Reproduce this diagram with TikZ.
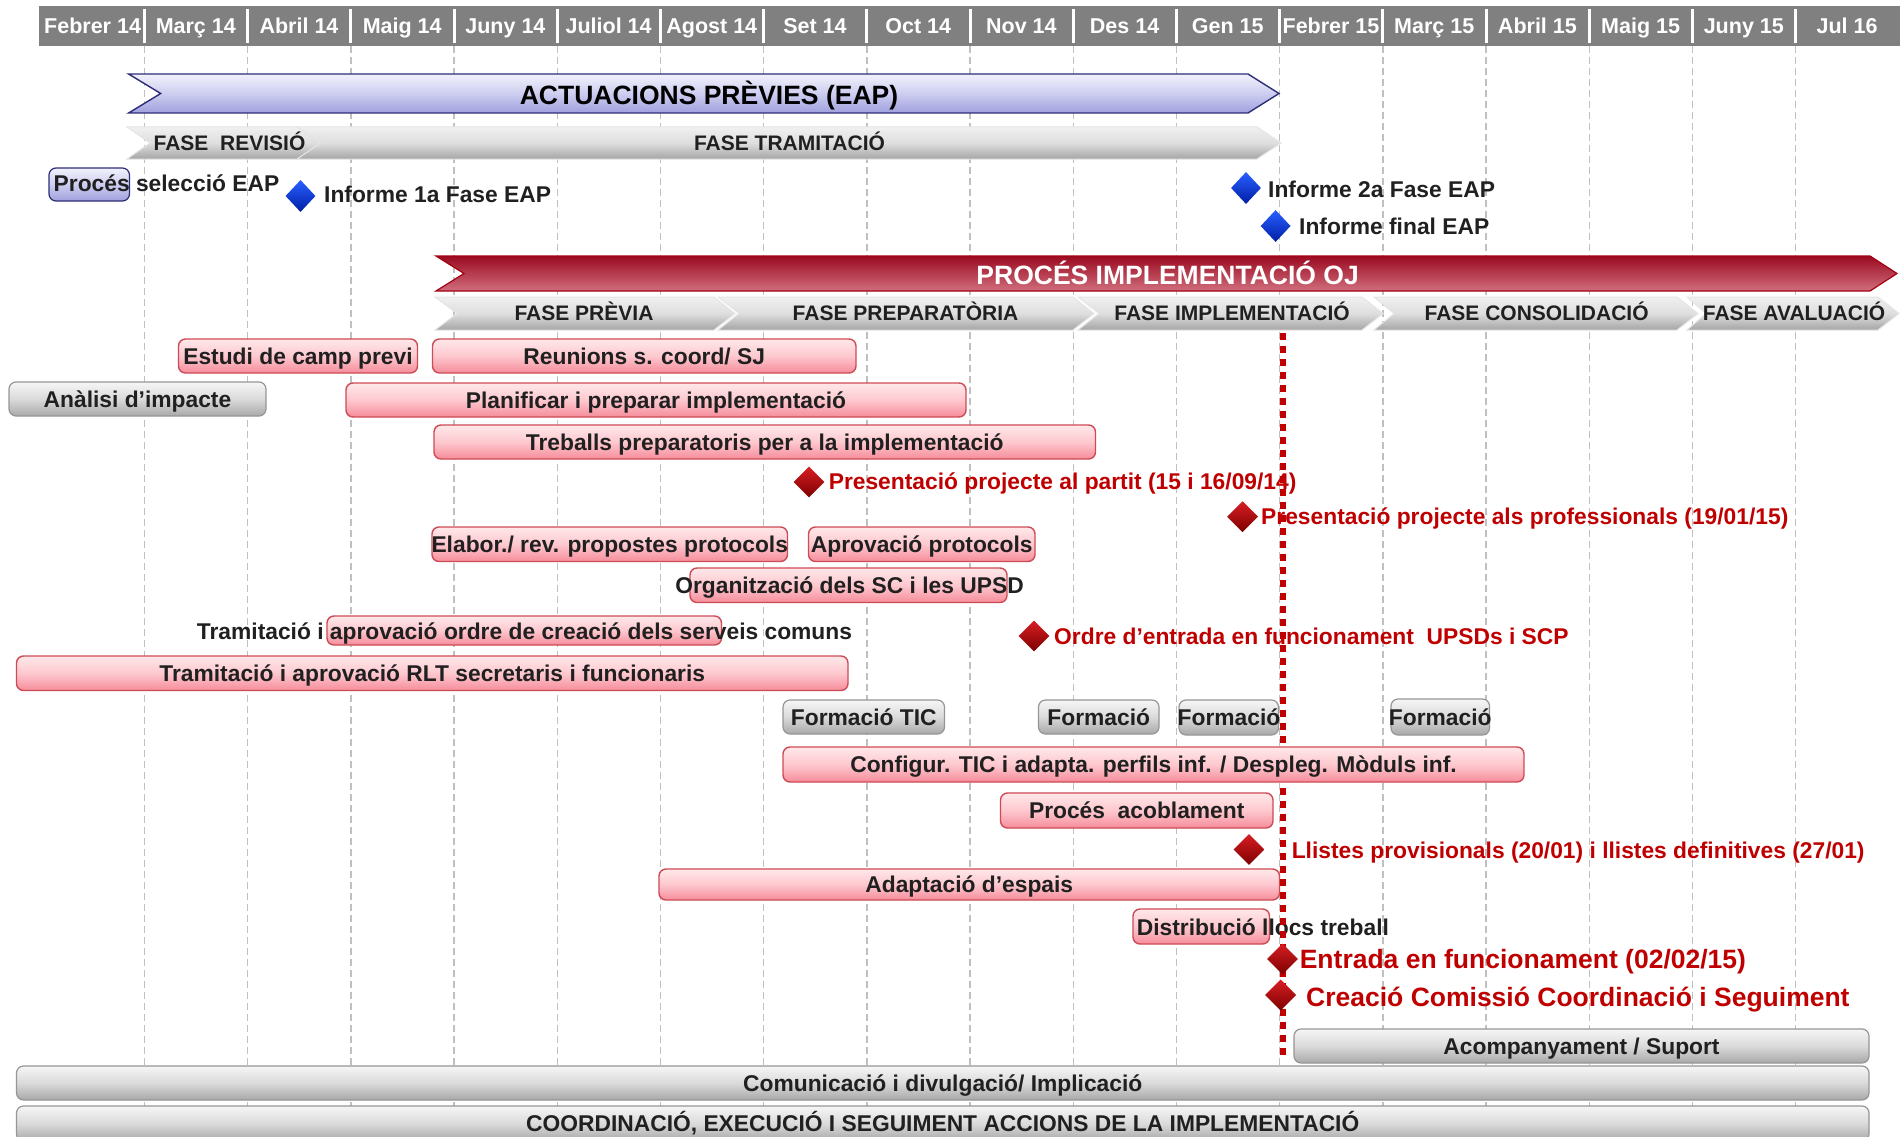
\documentclass[tikz,border=0pt]{standalone}
\usepackage{fontspec}
\setmainfont{Liberation Sans}
\usetikzlibrary{shapes.geometric}
\definecolor{hdrgray}{RGB}{128,128,128}
\definecolor{gridgray}{RGB}{192,192,192}
\definecolor{txtc}{RGB}{32,32,32}
\definecolor{redtxt}{RGB}{192,0,0}
\definecolor{pinktop}{RGB}{255,232,234}
\definecolor{pinkmid}{RGB}{253,200,206}
\definecolor{pinkbot}{RGB}{246,140,155}
\definecolor{pinkline}{RGB}{205,75,85}
\definecolor{graytop}{RGB}{246,246,246}
\definecolor{graymid}{RGB}{218,218,218}
\definecolor{graybot}{RGB}{168,168,168}
\definecolor{grayline}{RGB}{150,150,150}
\definecolor{chevtop}{RGB}{240,240,240}
\definecolor{chevmid}{RGB}{222,222,222}
\definecolor{chevbot}{RGB}{165,165,165}
\definecolor{lavtop}{RGB}{242,242,252}
\definecolor{lavmid}{RGB}{205,205,240}
\definecolor{lavbot}{RGB}{160,160,222}
\definecolor{navy}{RGB}{45,45,120}
\definecolor{redtop}{RGB}{155,10,32}
\definecolor{redbot}{RGB}{208,110,125}
\definecolor{redline}{RGB}{165,0,20}
\definecolor{dmdredtop}{RGB}{215,30,35}
\definecolor{dmdredbot}{RGB}{125,0,0}
\definecolor{dmdbluetop}{RGB}{40,95,255}
\definecolor{dmdbluebot}{RGB}{0,30,165}
\tikzset{
 f225/.style={font=\fontsize{22.8}{27}\selectfont\bfseries, text height=16.3pt, text depth=0pt, inner sep=0pt},
 lbl/.style={f225, text=txtc},
 redlbl/.style={f225, text=redtxt},
 biglbl/.style={font=\fontsize{26.5}{31}\selectfont\bfseries, text height=19pt, text depth=0pt, inner sep=0pt, text=redtxt},
 hdrlbl/.style={font=\fontsize{21.5}{26}\selectfont\bfseries, text height=15.4pt, text depth=0pt, inner sep=0pt, text=white},
 phaselbl/.style={font=\fontsize{21}{25}\selectfont\bfseries, text height=15pt, text depth=0pt, inner sep=0pt, text=txtc},
 titlelbl/.style={font=\fontsize{26.5}{32}\selectfont\bfseries, text height=19pt, text depth=0pt, inner sep=0pt},
 pinkbar/.style={lbl, draw=pinkline, line width=1.4pt, rounded corners=7pt, top color=pinktop, bottom color=pinkbot, middle color=pinkmid},
 graybar/.style={lbl, draw=grayline, line width=1.2pt, rounded corners=7pt, top color=graytop, bottom color=graybot, middle color=graymid},
 lavbox/.style={draw=navy, line width=1.2pt, rounded corners=7pt, top color=lavtop, bottom color=lavbot, middle color=lavmid},
 lavarrow/.style={draw=navy, line width=1.4pt, top color=lavtop, bottom color=lavbot, middle color=lavmid},
 redarrow/.style={draw=redline, line width=1.2pt, top color=redtop, bottom color=redbot},
 graychev/.style={draw=white!80!gray, line width=1pt, top color=chevtop, bottom color=chevbot, middle color=chevmid},
 reddmd/.style={diamond, minimum width=31pt, minimum height=31pt, inner sep=0pt, top color=dmdredtop, bottom color=dmdredbot},
 bluedmd/.style={diamond, minimum width=30pt, minimum height=32pt, inner sep=0pt, top color=dmdbluetop, bottom color=dmdbluebot},
 gridline/.style={draw=gridgray, line width=1.4pt, dash pattern=on 7pt off 4pt},
 todayline/.style={draw=redtxt, line width=6pt, dash pattern=on 6.5pt off 6.5pt}
}
\newcommand\gbar[7]{\node[#2, minimum width={(#5)-(#3)}, minimum height={(#6)-(#4)}] (#1) at ({((#3)+(#5))/2},{((#4)+(#6))/2}) {#7};}
\newcommand\chevron[7]{\path[#1] (#2,#6) -- (#4,#6) -- (#5,{((#6)+(#7))/2}) -- (#4,#7) -- (#2,#7) -- (#3,{((#6)+(#7))/2}) -- cycle;}
\begin{document}
\begin{tikzpicture}[x=1pt,y=-1pt]
\useasboundingbox (0,0) rectangle (1903,1137);
\clip (0,0) rectangle (1903,1137);
\fill[white] (0,0) rectangle (1903,1137);
% grid
\foreach \k in {0,...,16} \draw[gridline] ({144.4+103.2*\k},46) -- ({144.4+103.2*\k},1137);
% header
\fill[hdrgray] (39,6) rectangle (1900,46);
\foreach \k in {0,...,16} \draw[white, line width=3pt] ({144.4+103.2*\k},9) -- ({144.4+103.2*\k},43);
\foreach \m [count=\i from 0] in {Febrer 14,Març 14,Abril 14,Maig 14,Juny 14,Juliol 14,Agost 14,Set 14,Oct 14,Nov 14,Des 14,Gen 15,Febrer 15,Març 15,Abril 15,Maig 15,Juny 15,Jul 16}
  \node[hdrlbl] (h\i) at ({92.6+103.2*\i},25.8) {\m};
% EAP arrow and phases
\chevron{lavarrow}{128.6}{160.7}{1248}{1279}{74}{113}
\node[titlelbl, text=black] (eaptitle) at (709,94.7) {ACTUACIONS PRÈVIES (EAP)};
\chevron{graychev}{297}{320}{1257}{1281}{127}{159}
\chevron{graychev}{127}{150}{297}{320.5}{127}{159}
\node[phaselbl] (frev) at (229.5,143.3) {FASE~~REVISIÓ};
\node[phaselbl] (ftram) at (789.5,143.3) {FASE TRAMITACIÓ};
% EAP milestones
\node[lavbox, minimum width=80.5pt, minimum height=33pt] (procbox) at (89.25,184.5) {};
\node[lbl, anchor=west] (procsel) at (53.5,183.5) {Procés selecció EAP};
\node[bluedmd] (d1) at (300.5,196) {};
\node[lbl, anchor=west] (t1) at (324,194) {Informe 1a Fase EAP};
\node[bluedmd] (d2) at (1246,188) {};
\node[lbl, anchor=west] (t2) at (1268,189) {Informe 2a Fase EAP};
\node[bluedmd] (d3) at (1275.6,226) {};
\node[lbl, anchor=west] (t3) at (1299,226.7) {Informe final EAP};
% OJ arrow and phases
\chevron{redarrow}{436}{464}{1870}{1897}{256}{291}
\node[titlelbl, text=white] (ojtitle) at (1167.6,274.7) {PROCÉS IMPLEMENTACIÓ OJ};
\chevron{graychev}{435}{457}{714}{735}{297}{330}
\chevron{graychev}{718}{739}{1073}{1094}{297}{330}
\chevron{graychev}{1078}{1099}{1362}{1383}{297}{330}
\chevron{graychev}{1374}{1394}{1677}{1698}{297}{330}
\chevron{graychev}{1687}{1706}{1878}{1899}{297}{330}
\node[phaselbl] (fprev) at (584,313.3) {FASE PRÈVIA};
\node[phaselbl] (fprep) at (905.5,313.3) {FASE PREPARATÒRIA};
\node[phaselbl] (fimpl) at (1232,313.3) {FASE IMPLEMENTACIÓ};
\node[phaselbl] (fcons) at (1536.6,313.3) {FASE CONSOLIDACIÓ};
\node[phaselbl] (faval) at (1794,313.3) {FASE AVALUACIÓ};
% bars
\gbar{estudi}{pinkbar}{178.5}{339}{417.5}{373}{Estudi de camp previ}
\gbar{reunions}{pinkbar}{432.5}{339}{856}{373}{Reunions s. coord/ SJ}
\gbar{analisi}{graybar}{9}{382}{266}{416}{Anàlisi d’impacte}
\gbar{planificar}{pinkbar}{346}{383}{966}{417}{Planificar i preparar implementació}
\gbar{treballs}{pinkbar}{434}{425}{1095.5}{459}{Treballs preparatoris per a la implementació}
\gbar{elabor}{pinkbar}{432}{527}{787.5}{561.5}{}
\node[lbl] (elabort) at (609.75,544.2) {Elabor./ rev. propostes protocols};
\gbar{aprov}{pinkbar}{808.5}{527}{1035}{561.5}{}
\node[lbl] (aprovt) at (921.75,544.2) {Aprovació protocols};
\gbar{organ}{pinkbar}{690}{568}{1007}{602.5}{}
\node[lbl] (organt) at (849.5,585) {Organització dels SC i les UPSD};
\gbar{tramordre}{pinkbar}{327}{616}{721.5}{645}{}
\node[lbl] (tramordret) at (524.5,631) {Tramitació i aprovació ordre de creació dels serveis comuns};
\gbar{rlt}{pinkbar}{16.5}{656}{848}{690.5}{Tramitació i aprovació RLT secretaris i funcionaris}
\gbar{ftic}{graybar}{783}{700}{944.5}{734}{Formació TIC}
\gbar{form1}{graybar}{1038.5}{700}{1159}{734}{Formació}
\gbar{form2}{graybar}{1179}{700}{1278.5}{735}{}
\node[lbl] (form2t) at (1229,717.5) {Formació};
\gbar{form3}{graybar}{1391}{699}{1489.5}{735}{}
\node[lbl] (form3t) at (1440.2,717) {Formació};
\gbar{acobl}{pinkbar}{1000.5}{793}{1273}{828}{Procés~~acoblament}
\gbar{adapt}{pinkbar}{659}{869}{1279.5}{900}{Adaptació d’espais}
\gbar{distrib}{pinkbar}{1133}{909}{1269.5}{944}{}
\node[lbl, anchor=west] (distribt) at (1136.6,927) {Distribució llocs treball};
\gbar{acomp}{graybar}{1294}{1029}{1869}{1063}{Acompanyament / Suport}
\gbar{comun}{graybar}{16.5}{1066}{1869}{1100}{Comunicació i divulgació/ Implicació}
\gbar{coord}{graybar}{16.5}{1106}{1869}{1141}{COORDINACIÓ, EXECUCIÓ I SEGUIMENT ACCIONS DE LA IMPLEMENTACIÓ}
% milestone labels
\node[redlbl, anchor=west] (tpartit) at (828.6,481.7) {Presentació projecte al partit (15 i 16/09/14)};
\node[redlbl, anchor=west] (tprof) at (1261,516.7) {Presentació projecte als professionals (19/01/15)};
\node[redlbl, anchor=west] (tordre) at (1054,636) {Ordre d’entrada en funcionament~~UPSDs i SCP};
\node[redlbl, anchor=west] (tllist) at (1291.6,850.5) {Llistes provisionals (20/01) i llistes definitives (27/01)};
\node[biglbl, anchor=west] (tentr) at (1299.6,959) {Entrada en funcionament (02/02/15)};
\node[biglbl, anchor=west] (tcrea) at (1306,997.4) {Creació Comissió Coordinació i Seguiment};
% today line
\coordinate (vtop) at (1283,333);
\coordinate (vbot) at (1283,1060);
\draw[todayline] (vtop) -- (vbot);
% bar on top of line
\gbar{config}{pinkbar}{783}{747}{1524}{782}{Configur. TIC i adapta. perfils inf. / Despleg. Mòduls inf.}
% red diamonds
\node[reddmd] (dpartit) at (809,482) {};
\node[reddmd] (dprof) at (1242.6,516.7) {};
\node[reddmd] (dordre) at (1034,636) {};
\node[reddmd] (dllist) at (1249,849.5) {};
\node[reddmd] (dentr) at (1282.5,959) {};
\node[reddmd] (dcrea) at (1280.6,995) {};
\end{tikzpicture}
\end{document}
